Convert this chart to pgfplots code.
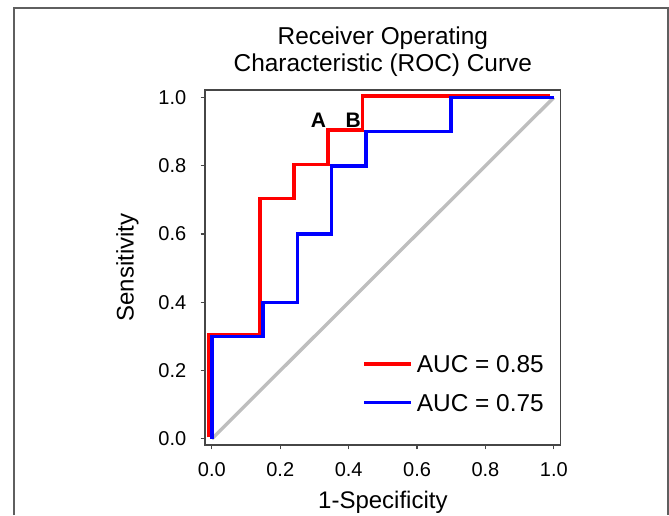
\documentclass[border=0pt]{standalone}
\usepackage{fontspec}
\setmainfont{Liberation Sans}
\usepackage{pgfplots}
\pgfplotsset{compat=1.18}
\definecolor{framegray}{RGB}{95,95,95}
\definecolor{boxgray}{RGB}{70,70,70}
\definecolor{diaggray}{RGB}{190,190,190}

\begin{document}
\begin{tikzpicture}
% page is 669x515 px at 0.5pt per px
\useasboundingbox (0pt,0pt) rectangle (334.5pt,257.5pt);
\draw[framegray, line width=1pt] (7pt,0pt) -- (7pt,253.5pt) -- (333.85pt,253.5pt) -- (333.85pt,0pt);
\begin{axis}[
    at={(102.5pt,35pt)}, anchor=south west,
    scale only axis,
    width=177.85pt, height=177.5pt,
    xmin=-0.02, xmax=1.02,
    ymin=-0.018, ymax=1.022,
    axis line style={boxgray, line width=0.6pt},
    xtick={0,0.2,0.4,0.6,0.8,1},
    ytick={0,0.2,0.4,0.6,0.8,1},
    tick pos=left,
    tick align=outside,
    major tick length=2.2pt,
    tick style={boxgray, line width=0.6pt},
    /pgf/number format/assume math mode=true,
    /pgf/number format/fixed,
    /pgf/number format/fixed zerofill,
    /pgf/number format/precision=1,
    ticklabel style={font=\fontsize{10}{12}\selectfont},
    xticklabel style={anchor=base, inner sep=0pt, yshift=-13.6pt},
    yticklabel style={anchor=east, inner sep=0pt, xshift=-7pt},
    xlabel={1-Specificity},
    ylabel={Sensitivity},
    label style={font=\fontsize{12}{14}\selectfont},
    xlabel style={at={(axis description cs:0.5,-0.179)}, anchor=base, inner sep=0pt},
    ylabel style={at={(axis description cs:-0.2007,0.5)}, anchor=base, inner sep=0pt},
    title={Receiver Operating\\Characteristic (ROC) Curve},
    title style={font=\fontsize{12.2}{13.5}\selectfont, align=center,
        at={(axis description cs:0.5,1)}, anchor=south, inner sep=0pt, yshift=0.5pt},
    legend cell align=left,
    legend image code/.code={\draw[#1] (0pt,0pt) -- (23.5pt,0pt); \path (25.5pt,0pt);},
    legend style={draw=none, fill=none, inner sep=0pt, outer sep=0pt,
        at={(axis cs:0.44,0.22)}, anchor=north west, yshift=4.3pt,
        font=\fontsize{12.2}{14}\selectfont, row sep=10.75pt,
        nodes={inner sep=0pt, text height=8.6pt, text depth=0pt}},
]

% chance line
\addplot[diaggray, line width=1.7pt, forget plot] coordinates {(0,0) (1,1)};

\addplot[red, line width=1.8pt] coordinates {
    (-0.008,0.004) (-0.008,0.304) (0.14,0.304) (0.14,0.704)
    (0.24,0.704) (0.24,0.804) (0.34,0.804) (0.34,0.904)
    (0.44,0.904) (0.44,1.004) (0.99,1.004)
};
\addlegendentry{AUC = 0.85}

\addplot[blue, line width=1.8pt] coordinates {
    (0,0) (0,0.3) (0.15,0.3) (0.15,0.4) (0.25,0.4) (0.25,0.6)
    (0.35,0.6) (0.35,0.8) (0.45,0.8) (0.45,0.9) (0.7,0.9)
    (0.7,1) (1,1)
};
\addlegendentry{AUC = 0.75}

\node[font=\bfseries\fontsize{10.5}{12}\selectfont] at (axis cs:0.312,0.932) {A};
\node[font=\bfseries\fontsize{10.5}{12}\selectfont] at (axis cs:0.413,0.932) {B};
\end{axis}
\end{tikzpicture}
\end{document}
